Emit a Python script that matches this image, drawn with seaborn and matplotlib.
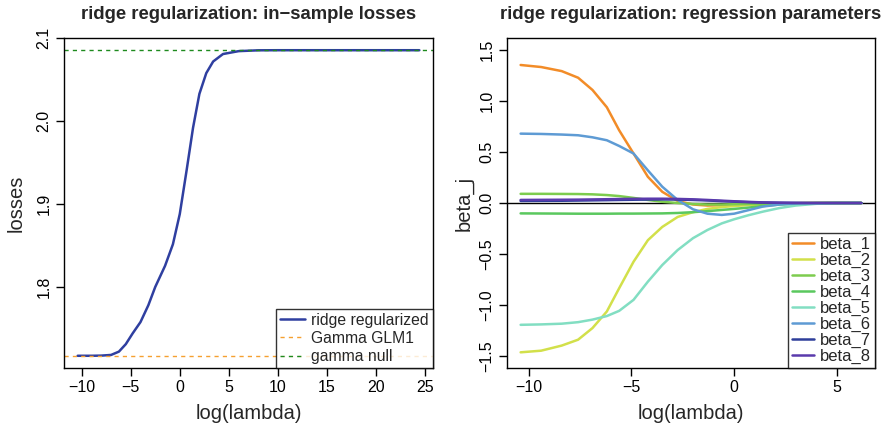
import numpy as np
import pandas as pd
import matplotlib
matplotlib.use("Agg")
import matplotlib.pyplot as plt
import seaborn as sns

# ---- in-sample losses along the ridge path ----
loss_lambda = [-10.4, -9.0, -8.0, -7.0, -6.2, -5.5, -4.8, -4.0, -3.2, -2.5, -1.5,
               -0.7, 0.0, 0.7, 1.35, 2.0, 2.7, 3.4, 4.4, 6.0, 8.0, 10.0, 15.0, 20.0, 24.4]
ridge_loss = [1.717, 1.717, 1.7172, 1.718, 1.722, 1.731, 1.744, 1.7577, 1.778, 1.800, 1.8255,
              1.8515, 1.888, 1.941, 1.992, 2.033, 2.058, 2.072, 2.081, 2.0845, 2.0855,
              2.0856, 2.0856, 2.0856, 2.0856]
glm1_loss = 1.717
null_loss = 2.0856

# ---- regression parameters along the ridge path ----
beta_lambda = [-10.4, -9.4, -8.4, -7.6, -6.9, -6.2, -5.6, -4.9, -4.2, -3.5, -2.75,
               -2.0, -1.3, -0.6, 0.0, 0.7, 1.4, 2.2, 3.0, 4.0, 5.0, 6.2]
betas = {
    "beta_1": [1.355, 1.335, 1.295, 1.23, 1.11, 0.94, 0.714, 0.486, 0.257, 0.11, 0.02,
               -0.015, -0.025, -0.022, -0.018, -0.012, -0.008, -0.004, -0.002, 0.0, 0.0, 0.0],
    "beta_2": [-1.466, -1.45, -1.40, -1.342, -1.228, -1.065, -0.837, -0.577, -0.365, -0.235,
               -0.137, -0.09, -0.058, -0.04, -0.03, -0.02, -0.013, -0.007, -0.003, -0.001, 0.0, 0.0],
    "beta_3": [0.09, 0.09, 0.089, 0.088, 0.085, 0.078, 0.068, 0.05, 0.03, 0.012, 0.0,
               -0.01, -0.015, -0.015, -0.012, -0.01, -0.007, -0.004, -0.002, 0.0, 0.0, 0.0],
    "beta_4": [-0.102, -0.103, -0.104, -0.105, -0.105, -0.105, -0.104, -0.104, -0.103, -0.102,
               -0.098, -0.09, -0.08, -0.068, -0.058, -0.045, -0.03, -0.015, -0.007, -0.002, 0.0, 0.0],
    "beta_5": [-1.196, -1.192, -1.185, -1.17, -1.145, -1.11, -1.059, -0.951, -0.772, -0.609,
               -0.462, -0.345, -0.265, -0.2, -0.16, -0.12, -0.085, -0.05, -0.025, -0.008, -0.002, 0.0],
    "beta_6": [0.681, 0.678, 0.672, 0.665, 0.645, 0.616, 0.56, 0.486, 0.32, 0.16, 0.03,
               -0.062, -0.105, -0.117, -0.105, -0.07, -0.035, -0.015, -0.005, -0.001, 0.0, 0.0],
    "beta_7": [0.02, 0.021, 0.022, 0.024, 0.026, 0.028, 0.03, 0.032, 0.034, 0.035, 0.034,
               0.03, 0.025, 0.018, 0.013, 0.008, 0.004, 0.002, 0.001, 0.0, 0.0, 0.0],
    "beta_8": [0.03, 0.031, 0.032, 0.033, 0.035, 0.037, 0.039, 0.041, 0.042, 0.042, 0.04,
               0.036, 0.03, 0.023, 0.017, 0.011, 0.006, 0.003, 0.001, 0.0, 0.0, 0.0],
}
beta_colors = ["#F28C28", "#D2E04A", "#7DCC4E", "#5AC85E",
               "#82DEC2", "#5E9BD4", "#2E3E9A", "#5A3AAC"]

sns.set_style("ticks")
plt.rcParams["font.family"] = ["Liberation Sans", "DejaVu Sans"]
plt.rcParams["axes.linewidth"] = 1.0

fig = plt.figure(figsize=(8.82, 4.25), dpi=100)
W, H = 882, 425
ax1 = fig.add_axes([64 / W, 57 / H, 369 / W, 330 / H])
ax2 = fig.add_axes([507 / W, 57 / H, 368 / W, 330 / H])

tick_fs = 11.5
label_fs = 14.5
title_fs = 13.3

def style_axes(ax):
    for s in ax.spines.values():
        s.set_visible(True)
        s.set_color("black")
        s.set_linewidth(1.0)
    ax.tick_params(axis="both", direction="out", length=6, width=1.0,
                   labelsize=tick_fs, colors="black", pad=3)
    for lab in ax.get_yticklabels():
        lab.set_rotation(90)
        lab.set_va("center")

# left panel: losses
loss_df = pd.DataFrame({"log_lambda": loss_lambda, "loss": ridge_loss})
sns.lineplot(data=loss_df, x="log_lambda", y="loss", ax=ax1, color="#2F3FA0",
             linewidth=1.8, label="ridge regularized")
ax1.axhline(glm1_loss, color="#F5A030", linestyle=(0, (3, 3)), linewidth=1.0,
            label="Gamma GLM1")
ax1.axhline(null_loss, color="#1E8A1E", linestyle=(0, (3, 3)), linewidth=1.0,
            label="gamma null")
lo, hi = min(loss_lambda), max(loss_lambda)
ax1.set_xlim(lo - 0.04 * (hi - lo), hi + 0.04 * (hi - lo))
ylo, yhi = glm1_loss, null_loss
ax1.set_ylim(ylo - 0.04 * (yhi - ylo), yhi + 0.04 * (yhi - ylo))
ax1.set_xticks([-10, -5, 0, 5, 10, 15, 20, 25])
ax1.set_xticklabels(["\u221210", "\u22125", "0", "5", "10", "15", "20", "25"])
ax1.set_yticks([1.8, 1.9, 2.0, 2.1])
ax1.set_yticklabels(["1.8", "1.9", "2.0", "2.1"])
ax1.set_xlabel("log(lambda)", fontsize=label_fs, labelpad=6)
ax1.set_ylabel("losses", fontsize=label_fs, labelpad=8)
ax1.set_title("ridge regularization: in\u2212sample losses", fontsize=title_fs,
              fontweight="bold", pad=14)
style_axes(ax1)
leg1 = ax1.legend(loc="lower right", fontsize=11.3, frameon=True, fancybox=False,
                  edgecolor="black", borderpad=0.25, labelspacing=0.2,
                  handlelength=1.6, handletextpad=0.4, borderaxespad=0)
leg1.get_frame().set_linewidth(1.0)

# right panel: regression parameters
rows = []
for name, vals in betas.items():
    for lam, v in zip(beta_lambda, vals):
        rows.append({"log_lambda": lam, "beta": v, "parameter": name})
beta_df = pd.DataFrame(rows)
ax2.axhline(0, color="black", linewidth=1.0, zorder=1)
sns.lineplot(data=beta_df, x="log_lambda", y="beta", hue="parameter",
             palette=beta_colors, linewidth=1.8, ax=ax2, zorder=2)
lo, hi = min(beta_lambda), max(beta_lambda)
ax2.set_xlim(lo - 0.04 * (hi - lo), hi + 0.04 * (hi - lo))
ax2.set_ylim(-1.5 - 0.12, 1.5 + 0.12)
ax2.set_xticks([-10, -5, 0, 5])
ax2.set_xticklabels(["\u221210", "\u22125", "0", "5"])
ax2.set_yticks([-1.5, -1.0, -0.5, 0.0, 0.5, 1.0, 1.5])
ax2.set_yticklabels(["\u22121.5", "\u22121.0", "\u22120.5", "0.0", "0.5", "1.0", "1.5"])
ax2.set_xlabel("log(lambda)", fontsize=label_fs, labelpad=6)
ax2.set_ylabel("beta_j", fontsize=label_fs, labelpad=4)
ax2.set_title("ridge regularization: regression parameters", fontsize=title_fs,
              fontweight="bold", pad=14)
style_axes(ax2)
handles, labels = ax2.get_legend_handles_labels()
leg2 = ax2.legend(handles, labels, loc="lower right", fontsize=12, frameon=True,
                  fancybox=False, edgecolor="black", borderpad=0.25,
                  labelspacing=0.05, handlelength=1.3, handletextpad=0.35,
                  borderaxespad=0)
leg2.get_frame().set_linewidth(1.0)

fig.savefig("out.png", dpi=100)
